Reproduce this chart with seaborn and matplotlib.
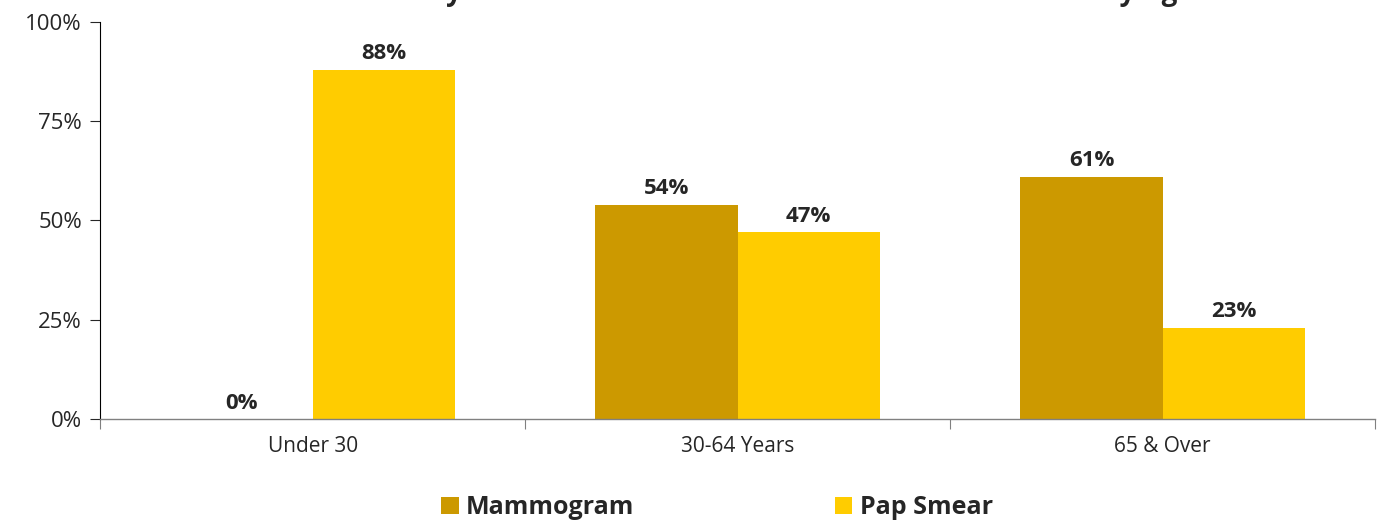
import pandas as pd
import matplotlib.pyplot as plt
import seaborn as sns
from matplotlib.ticker import FixedLocator, PercentFormatter
from matplotlib.patches import Patch

# Chart data
age_groups = ['Under 30', '30-64 Years', '65 & Over']
mammogram = [0, 54, 61]
pap_smear = [88, 47, 23]
tests = ['Mammogram', 'Pap Smear']
colors = ['#CC9900', '#FFCC00']
title = 'Share of Survey Women Who Are Current on Each Cancer Test by Age'

df = pd.DataFrame({
    'Age': age_groups * 2,
    'Test': [tests[0]] * 3 + [tests[1]] * 3,
    'Pct': mammogram + pap_smear,
})

sns.set_style('white')
plt.rcParams['font.family'] = ['Open Sans', 'DejaVu Sans']

fig = plt.figure(figsize=(13.8, 5.2), dpi=100)
ax = fig.add_axes([0.0725, 0.194, 0.924, 0.764])

sns.barplot(data=df, x='Age', y='Pct', hue='Test', palette=colors,
            width=0.67, saturation=1, linewidth=0, ax=ax, legend=False)

# value labels
for cont in ax.containers:
    ax.bar_label(cont, labels=[f'{v:.0f}%' for v in cont.datavalues],
                 padding=4, fontsize=16, fontweight='bold')

ax.set_xlim(-0.5, 2.5)
ax.set_ylim(0, 100)
ax.set_yticks([0, 25, 50, 75, 100])
ax.yaxis.set_major_formatter(PercentFormatter(decimals=0))
ax.set_xlabel('')
ax.set_ylabel('')

for s in ['top', 'right']:
    ax.spines[s].set_visible(False)
ax.spines['left'].set_color('#000000')
ax.spines['left'].set_linewidth(0.8)
ax.spines['bottom'].set_color('#808080')
ax.spines['bottom'].set_linewidth(1.0)

ax.tick_params(axis='y', direction='out', length=7, width=0.8, labelsize=16, left=True, pad=6)
ax.tick_params(axis='x', which='major', length=0, labelsize=15, pad=12)
ax.xaxis.set_minor_locator(FixedLocator([-0.5, 0.5, 1.5, 2.5]))
ax.tick_params(axis='x', which='minor', length=7, width=0.8, color='#808080', bottom=True)

# legend below the plot
handles = [Patch(facecolor=c, edgecolor='none') for c in colors]
fig.legend(handles, tests, loc='lower center', bbox_to_anchor=(0.5195, -0.044),
           ncol=2, frameon=False, columnspacing=8, handlelength=0.7,
           handleheight=0.7, handletextpad=0.3,
           prop={'weight': 'bold', 'size': 18})

# title sits above the top edge, only descenders show as in the reference
fig.text(247 / 1380, 1.0, title, ha='left', va='baseline',
         fontsize=20, fontweight='bold')

fig.savefig('out.png', dpi=100)
